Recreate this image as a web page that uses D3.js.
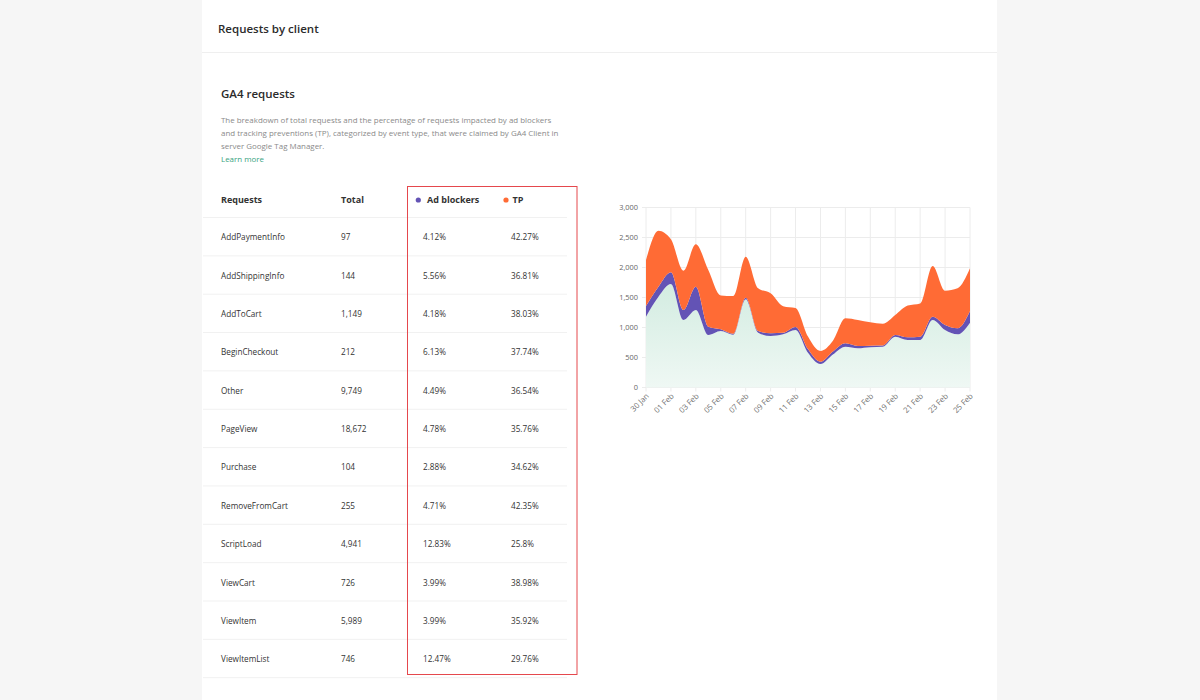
<!DOCTYPE html>
<html>
<head>
<meta charset="utf-8">
<script src="https://cdn.jsdelivr.net/npm/d3@7"></script>
<style>
  html, body { margin: 0; padding: 0; background: #f6f6f6; }
  body { width: 1200px; height: 700px; overflow: hidden; position: relative; font-family: "Open Sans", "Noto Sans", sans-serif; }
  #card { position: absolute; left: 202px; top: 0; width: 795px; height: 700px; background: #fff; }
  svg { position: absolute; left: 0; top: 0; }
</style>
</head>
<body>
<div id="card"></div>
<svg id="root" width="1200" height="700"></svg>
<script>
// ---------- data ----------
const pageTitle = "Requests by client";
const sectionTitle = "GA4 requests";
const descriptionLines = [
  "The breakdown of total requests and the percentage of requests impacted by ad blockers",
  "and tracking preventions (TP), categorized by event type, that were claimed by GA4 Client in",
  "server Google Tag Manager."
];
const learnMore = "Learn more";

const tableHeaders = ["Requests", "Total", "Ad blockers", "TP"];
const requestTypes = ["AddPaymentInfo","AddShippingInfo","AddToCart","BeginCheckout","Other","PageView","Purchase","RemoveFromCart","ScriptLoad","ViewCart","ViewItem","ViewItemList"];
const requestTotals = ["97","144","1,149","212","9,749","18,672","104","255","4,941","726","5,989","746"];
const adBlockerPct = ["4.12%","5.56%","4.18%","6.13%","4.49%","4.78%","2.88%","4.71%","12.83%","3.99%","3.99%","12.47%"];
const tpPct = ["42.27%","36.81%","38.03%","37.74%","36.54%","35.76%","34.62%","42.35%","25.8%","38.98%","35.92%","29.76%"];

const dates = ["30 Jan","31 Jan","01 Feb","02 Feb","03 Feb","04 Feb","05 Feb","06 Feb","07 Feb","08 Feb","09 Feb","10 Feb","11 Feb","12 Feb","13 Feb","14 Feb","15 Feb","16 Feb","17 Feb","18 Feb","19 Feb","20 Feb","21 Feb","22 Feb","23 Feb","24 Feb","25 Feb"];
const cleanRequests = [1180,1513,1725,1125,1292,875,940,880,1470,914,858,886,958,580,392,550,680,653,670,680,847,792,792,1125,958,886,1081];
const adBlockedRequests = [178,167,195,167,388,139,30,15,27,28,45,25,50,60,38,50,56,39,27,20,28,45,55,55,84,100,194];
const tpRequests = [767,934,550,655,706,944,565,630,683,711,667,444,316,210,180,180,417,433,389,361,333,528,553,845,572,667,711];
const yTicks = [0,500,1000,1500,2000,2500,3000];

const colors = { clean: "#dff2ea", ad: "#6353b5", tp: "#ff6b35" };

// ---------- page ----------
const svg = d3.select("#root");
const txt = "#2b2b2b";

svg.append("text").attr("x", 218).attr("y", 33).text(pageTitle)
  .attr("font-size", 11.5).attr("font-weight", 600).attr("fill", txt);
svg.append("line").attr("x1", 202).attr("x2", 997).attr("y1", 52.5).attr("y2", 52.5)
  .attr("stroke", "#efefef");

svg.append("text").attr("x", 221).attr("y", 97.5).text(sectionTitle)
  .attr("font-size", 11.5).attr("font-weight", 600).attr("fill", txt);
svg.append("g").selectAll("text").data(descriptionLines).join("text")
  .attr("x", 221).attr("y", (d, i) => 123 + i * 13).text(d => d)
  .attr("font-size", 7.95).attr("fill", "#8a8a8a");
svg.append("text").attr("x", 221).attr("y", 162).text(learnMore)
  .attr("font-size", 7.95).attr("fill", "#3aa37f");

// ---------- table ----------
const rowH = 38.35, headY = 200, firstLineY = 217.5;
const colX = [221, 341, 423, 511];
const table = svg.append("g").attr("font-size", 8.2).attr("fill", "#333");
table.append("text").attr("x", colX[0]).attr("y", headY).attr("dy", "0.35em")
  .attr("font-weight", 700).attr("font-size", 9).text(tableHeaders[0]);
table.append("text").attr("x", colX[1]).attr("y", headY).attr("dy", "0.35em")
  .attr("font-weight", 700).attr("font-size", 9).text(tableHeaders[1]);
table.append("circle").attr("cx", 418.3).attr("cy", headY).attr("r", 2.6).attr("fill", colors.ad);
table.append("text").attr("x", 427).attr("y", headY).attr("dy", "0.35em")
  .attr("font-weight", 700).attr("font-size", 9).text(tableHeaders[2]);
table.append("circle").attr("cx", 506).attr("cy", headY).attr("r", 2.6).attr("fill", colors.tp);
table.append("text").attr("x", 512.5).attr("y", headY).attr("dy", "0.35em")
  .attr("font-weight", 700).attr("font-size", 9).text(tableHeaders[3]);

table.selectAll("line.sep").data(d3.range(requestTypes.length + 1)).join("line")
  .attr("x1", 203).attr("x2", 567)
  .attr("y1", i => firstLineY + i * rowH).attr("y2", i => firstLineY + i * rowH)
  .attr("stroke", "#f1f1f1");

const rows = table.selectAll("g.row").data(requestTypes).join("g")
  .attr("transform", (d, i) => `translate(0,${firstLineY + rowH / 2 + 0.8 + i * rowH})`);
rows.append("text").attr("x", colX[0]).attr("dy", "0.35em").text(d => d);
rows.append("text").attr("x", colX[1]).attr("dy", "0.35em").text((d, i) => requestTotals[i]);
rows.append("text").attr("x", colX[2]).attr("dy", "0.35em").text((d, i) => adBlockerPct[i]);
rows.append("text").attr("x", colX[3]).attr("dy", "0.35em").text((d, i) => tpPct[i]);

svg.append("rect").attr("x", 407.5).attr("y", 186.5).attr("width", 169.5).attr("height", 488)
  .attr("fill", "none").attr("stroke", "#e5484d").attr("stroke-width", 1);

// ---------- chart ----------
const cx0 = 646, cx1 = 970, cy0 = 207.5, cy1 = 387.5;
const x = d3.scalePoint().domain(dates).range([cx0, cx1]);
const y = d3.scaleLinear().domain([0, 3000]).range([cy1, cy0]);

const defs = svg.append("defs");
const grad = defs.append("linearGradient").attr("id", "greenGrad")
  .attr("x1", 0).attr("x2", 0).attr("y1", 0).attr("y2", 1);
grad.append("stop").attr("offset", "0%").attr("stop-color", "#d3ece1");
grad.append("stop").attr("offset", "100%").attr("stop-color", "#eff8f4");

const chart = svg.append("g");
// grid
const xTickDates = dates.filter((d, i) => i % 2 === 0 || i === dates.length - 1);
chart.append("g").selectAll("line").data(xTickDates).join("line")
  .attr("x1", d => x(d)).attr("x2", d => x(d)).attr("y1", cy0).attr("y2", cy1 + 4)
  .attr("stroke", "#ececec");
chart.append("g").selectAll("line").data(yTicks).join("line")
  .attr("x1", cx0 - 4).attr("x2", cx1).attr("y1", d => y(d)).attr("y2", d => y(d))
  .attr("stroke", "#ececec");

const rowsData = dates.map((d, i) => ({ date: d, clean: cleanRequests[i], ad: adBlockedRequests[i], tp: tpRequests[i] }));
const stack = d3.stack().keys(["clean", "ad", "tp"]);
const series = stack(rowsData);
const area = d3.area()
  .x(d => x(d.data.date))
  .y0(d => y(d[0]))
  .y1(d => y(d[1]))
  .curve(d3.curveMonotoneX);
const fills = { clean: "url(#greenGrad)", ad: colors.ad, tp: colors.tp };
chart.append("g").selectAll("path").data(series).join("path")
  .attr("d", area).attr("fill", s => fills[s.key]);

// axes labels
const yAxis = d3.axisLeft(y).tickValues(yTicks).tickSize(0).tickPadding(8).tickFormat(d3.format(","));
const ya = chart.append("g").attr("transform", `translate(${cx0},0)`).call(yAxis);
ya.select(".domain").remove();
ya.selectAll("text").attr("font-size", 7.4).attr("fill", "#666").attr("font-family", "Open Sans, sans-serif");

const xAxis = d3.axisBottom(x).tickValues(xTickDates).tickSize(0).tickPadding(0);
const xa = chart.append("g").attr("transform", `translate(0,${cy1})`).call(xAxis);
xa.select(".domain").remove();
xa.selectAll("text")
  .attr("font-size", 7.8).attr("fill", "#707070").attr("font-family", "Open Sans, sans-serif")
  .attr("text-anchor", "end").attr("dy", null).attr("y", 0)
  .attr("transform", "translate(3,9) rotate(-45)");
</script>
</body>
</html>
